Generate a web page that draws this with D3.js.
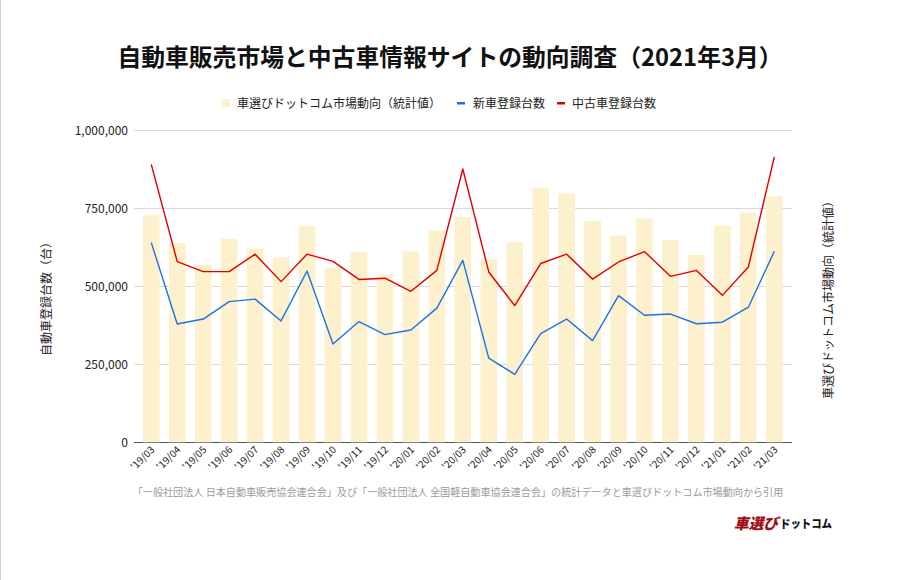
<!DOCTYPE html>
<html>
<head>
<meta charset="utf-8">
<script src="https://cdn.jsdelivr.net/npm/d3@7"></script>
<style>
  html, body { margin: 0; padding: 0; background: #fff; }
  svg { display: block; }
  text { font-family: "Noto Sans CJK JP", "Noto Sans", sans-serif; }
</style>
</head>
<body>
<svg id="chart" width="900" height="580"></svg>
<script>
const categories = ["'19/03","'19/04","'19/05","'19/06","'19/07","'19/08","'19/09","'19/10","'19/11","'19/12",
  "'20/01","'20/02","'20/03","'20/04","'20/05","'20/06","'20/07","'20/08","'20/09","'20/10","'20/11","'20/12",
  "'21/01","'21/02","'21/03"];
// 車選びドットコム市場動向（統計値） — right axis, unlabeled index
const marketIndex = [729000,639000,570000,652000,620000,593000,693000,560000,610000,538000,
  612000,678000,722000,587000,641000,815000,798000,709000,663000,717000,648000,601000,694000,736000,789000];
// 新車登録台数
const newCars = [640000,379000,395000,451000,459000,389000,549000,315000,387000,345000,
  360000,430000,583000,270000,218000,348000,395000,326000,470000,407000,411000,380000,385000,433000,612000];
// 中古車登録台数
const usedCars = [891000,579000,547000,547000,603000,515000,603000,580000,522000,526000,
  484000,551000,876000,546000,438000,573000,603000,523000,578000,611000,532000,551000,471000,562000,915000];
const yTicks = [0,250000,500000,750000,1000000];

const titleText = "自動車販売市場と中古車情報サイトの動向調査（2021年3月）";
const legendLabels = ["車選びドットコム市場動向（統計値）","新車登録台数","中古車登録台数"];
const leftAxisTitle = "自動車登録台数（台）";
const rightAxisTitle = "車選びドットコム市場動向（統計値）";
const sourceText = "「一般社団法人 日本自動車販売協会連合会」及び「一般社団法人 全国軽自動車協会連合会」の統計データと車選びドットコム市場動向から引用";

const colors = { bar: "#fdf0cc", blue: "#1a73e8", red: "#e00000" };

const svg = d3.select("#chart");

// left border line
svg.append("line").attr("x1",0.5).attr("x2",0.5).attr("y1",0).attr("y2",580)
  .attr("stroke","#cfd4d4").attr("stroke-width",1);

const plot = { left: 138.3, right: 787.3, top: 130.3, bottom: 442.3 };

const x = d3.scaleBand().domain(categories).range([plot.left, plot.right]).paddingInner(0.36).paddingOuter(0.18);
const y = d3.scaleLinear().domain([0, 1000000]).range([plot.bottom, plot.top]);
const yRight = d3.scaleLinear().domain([0, 1000000]).range([plot.bottom, plot.top]);

// title
svg.append("text").attr("x", 450).attr("y", 66).attr("text-anchor","middle")
  .attr("font-size", 23.8).attr("font-weight", 700).attr("fill","#111").text(titleText);

// grid
const grid = svg.append("g");
grid.selectAll("line").data(yTicks.filter(d => d > 0)).join("line")
  .attr("x1", 134).attr("x2", 792)
  .attr("y1", d => Math.round(y(d)) + 0.5).attr("y2", d => Math.round(y(d)) + 0.5)
  .attr("stroke", "#d9d9d9").attr("stroke-width", 1);

// baseline
svg.append("line").attr("x1",134).attr("x2",792)
  .attr("y1", Math.round(y(0))+0.5).attr("y2", Math.round(y(0))+0.5)
  .attr("stroke","#555").attr("stroke-width",1.2);

// left axis
const yAxis = d3.axisLeft(y).tickValues(yTicks).tickSize(0).tickPadding(0)
  .tickFormat(d3.format(","));
const gy = svg.append("g").attr("transform", "translate(128,0)").call(yAxis);
gy.select(".domain").remove();
gy.selectAll("text").attr("font-size", 12).attr("fill", "#222")
  .attr("font-family", "'Liberation Sans', Arial, sans-serif");

// bars
svg.append("g").selectAll("rect").data(marketIndex).join("rect")
  .attr("x", (d,i) => x(categories[i]))
  .attr("width", x.bandwidth())
  .attr("y", d => yRight(d))
  .attr("height", d => yRight(0) - yRight(d))
  .attr("fill", colors.bar);

// lines
const cx = (i) => x(categories[i]) + x.bandwidth()/2;
const lineGen = d3.line().x((d,i) => cx(i)).y(d => y(d));
svg.append("path").datum(newCars).attr("d", lineGen).attr("fill","none")
  .attr("stroke", colors.blue).attr("stroke-width", 1.4).attr("stroke-linejoin","round");
svg.append("path").datum(usedCars).attr("d", lineGen).attr("fill","none")
  .attr("stroke", colors.red).attr("stroke-width", 1.4).attr("stroke-linejoin","round");

// x axis labels
const xAxis = d3.axisBottom(x).tickSize(0).tickPadding(0);
const gx = svg.append("g").attr("transform", `translate(0,${plot.bottom})`).call(xAxis);
gx.select(".domain").remove();
gx.selectAll("text")
  .attr("font-size", 10).attr("fill", "#222")
  .attr("font-family", "'Liberation Sans', Arial, sans-serif")
  .attr("text-anchor", "end")
  .attr("dy", null)
  .attr("transform", "translate(4,8) rotate(-45)");

// axis titles
svg.append("text").attr("transform", "translate(51,296) rotate(-90)")
  .attr("text-anchor","middle").attr("font-size", 12).attr("fill","#222").text(leftAxisTitle);
svg.append("text").attr("transform", "translate(833,297) rotate(-90)")
  .attr("text-anchor","middle").attr("font-size", 12).attr("fill","#222").text(rightAxisTitle);

// legend
const leg = svg.append("g");
leg.append("rect").attr("x", 222).attr("y", 99).attr("width", 8).attr("height", 8).attr("fill", colors.bar);
leg.append("text").attr("x", 237).attr("y", 107.5).attr("font-size", 12).attr("fill","#222").text(legendLabels[0]);
leg.append("rect").attr("x", 457).attr("y", 102).attr("width", 8).attr("height", 2.5).attr("fill", colors.blue);
leg.append("text").attr("x", 473).attr("y", 107.5).attr("font-size", 12).attr("fill","#222").text(legendLabels[1]);
leg.append("rect").attr("x", 557).attr("y", 102).attr("width", 8).attr("height", 2.5).attr("fill", colors.red);
leg.append("text").attr("x", 572).attr("y", 107.5).attr("font-size", 12).attr("fill","#222").text(legendLabels[2]);

// source
svg.append("text").attr("x", 458).attr("y", 496).attr("text-anchor","middle")
  .attr("font-size", 10.1).attr("fill","#9a9a9a").text(sourceText);

// logo
svg.append("text").attr("x", 734).attr("y", 529)
  .attr("font-size", 15).attr("font-weight", 900).attr("fill", "#a10d12")
  .attr("font-style","italic").attr("textLength", 44).attr("lengthAdjust","spacingAndGlyphs").text("車選び");
svg.append("text").attr("x", 780).attr("y", 528)
  .attr("font-size", 11.5).attr("font-weight", 900).attr("fill", "#111")
  .attr("textLength", 52).attr("lengthAdjust","spacingAndGlyphs").text("ドットコム");
</script>
</body>
</html>
